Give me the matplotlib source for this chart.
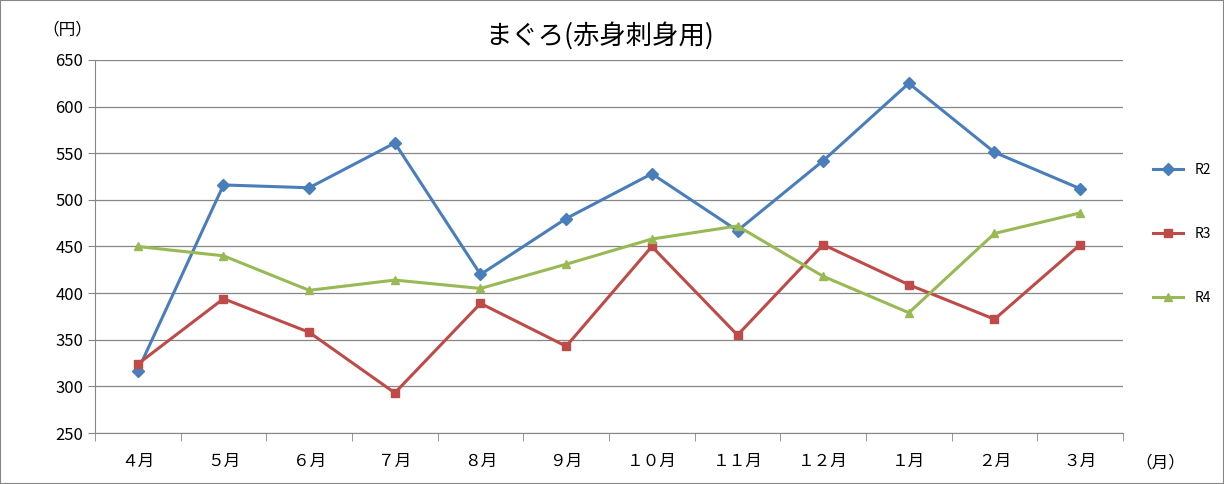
import matplotlib
matplotlib.use("Agg")
import matplotlib.pyplot as plt
from matplotlib.patches import Rectangle

plt.rcParams['font.family'] = 'Noto Sans CJK JP'

months = ["４月", "５月", "６月", "７月", "８月", "９月", "１０月", "１１月", "１２月", "１月", "２月", "３月"]
r2 = [317, 516, 513, 561, 420, 480, 528, 467, 542, 625, 551, 512]
r3 = [324, 394, 358, 293, 389, 343, 450, 355, 452, 409, 372, 452]
r4 = [450, 440, 403, 414, 405, 431, 458, 472, 418, 379, 464, 486]

fig = plt.figure(figsize=(12.24, 4.84), dpi=100)
ax = fig.add_axes([95/1224, 1-433/484, (1123-95)/1224, (433-60)/484])
x = list(range(len(months)))
ax.plot(x, r2, color="#4A7EBB", marker="D", markersize=6, lw=2.2, label="R2")
ax.plot(x, r3, color="#BE4B48", marker="s", markersize=6, lw=2.2, label="R3")
ax.plot(x, r4, color="#98B954", marker="^", markersize=6, lw=2.2, label="R4")

ax.set_xlim(-0.5, 11.5)
ax.set_ylim(250, 650)
ax.set_yticks(range(250, 651, 50))
ax.yaxis.grid(True, color="#868686", lw=0.9)
ax.set_axisbelow(True)
ax.set_xticks(x)
ax.set_xticklabels(months, fontsize=12)
ax.set_xticks([i - 0.5 for i in range(13)], minor=True)
ax.tick_params(axis='x', which='major', length=0, pad=14)
ax.tick_params(axis='x', which='minor', length=6, color="#868686")
ax.tick_params(axis='y', length=5, color="#868686", labelsize=12)
for s in ['top', 'right']:
    ax.spines[s].set_visible(False)
for s in ['left', 'bottom']:
    ax.spines[s].set_color("#868686")

fig.text(42/1224, 1-30/484, "（円）", fontsize=12, ha='left', va='center')
fig.text(1160/1224, 1-463/484, "（月）", fontsize=12, ha='center', va='center')
fig.text(600/1224, 1-36/484, "まぐろ(赤身刺身用)", fontsize=19, ha='center', va='center')

leg = fig.legend(loc='upper left', bbox_to_anchor=(1140/1224, 1-150/484), frameon=False,
                 fontsize=10, labelspacing=3.6, handlelength=2.2)
fig.patches.append(Rectangle((0, 0), 1, 1, transform=fig.transFigure, fill=False,
                             edgecolor="#868686", lw=1.5))
fig.savefig("out.png", dpi=100)
